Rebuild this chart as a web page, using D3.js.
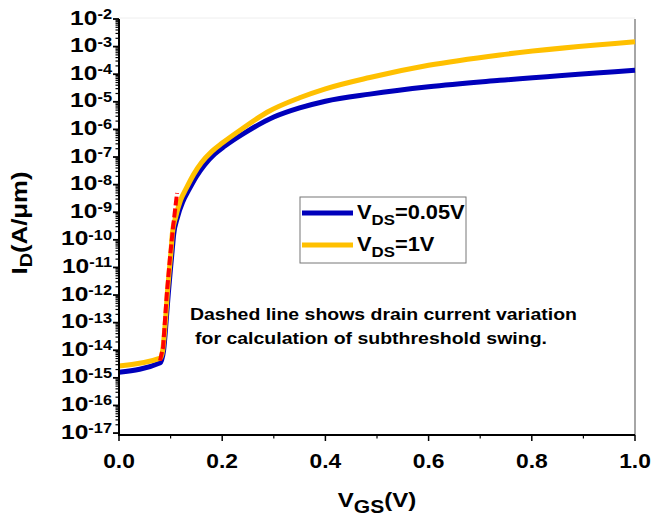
<!DOCTYPE html>
<html>
<head>
<meta charset="utf-8">
<script src="https://cdn.jsdelivr.net/npm/d3@7"></script>
<style>
  html, body { margin: 0; padding: 0; background: #fff; }
  svg { display: block; font-family: "Liberation Sans", Arial, sans-serif; font-weight: bold; }
</style>
</head>
<body>
<svg id="chart" width="651" height="517"></svg>
<script>
// Transfer characteristics: drain current vs gate voltage
const vgsLow = [0.000, 0.080, 0.0865, 0.092, 0.0955, 0.0995, 0.103, 0.106, 0.113, 0.124, 0.135, 0.150, 0.165, 0.185, 0.205, 0.250, 0.300, 0.350, 0.400, 0.486, 0.600, 0.738, 1.000];
const idLow  = [1.6e-15, 3.5e-15, 1.0e-14, 1.6e-13, 1.1e-12, 7.9e-12, 4.0e-11, 1.6e-10, 6.3e-10, 2.5e-9, 6.3e-9, 2.0e-8, 5.0e-8, 1.26e-7, 2.5e-7, 8.9e-7, 2.8e-6, 6.0e-6, 1.05e-5, 1.9e-5, 3.5e-5, 6.0e-5, 1.4e-4];

const vgsHigh = [0.000, 0.080, 0.0847, 0.0905, 0.0936, 0.0975, 0.101, 0.1034, 0.110, 0.1195, 0.130, 0.145, 0.160, 0.180, 0.200, 0.240, 0.287, 0.350, 0.400, 0.486, 0.600, 0.738, 1.000];
const idHigh  = [2.7e-15, 5.2e-15, 1.0e-14, 1.6e-13, 1.1e-12, 8.1e-12, 4.3e-11, 1.7e-10, 6.9e-10, 2.8e-9, 7.1e-9, 2.4e-8, 6.3e-8, 1.6e-7, 3.2e-7, 1.1e-6, 4.2e-6, 1.4e-5, 2.95e-5, 7.6e-5, 2.1e-4, 5.0e-4, 1.5e-3];

// Subthreshold slope guide
const vgsSS = [0.0795, 0.0855, 0.0925, 0.099, 0.105, 0.1125];
const idSS  = [4.2e-15, 1.3e-14, 1.0e-12, 2.5e-11, 3.2e-10, 5.0e-9];

const seriesNames = ["0.05V", "1V"];
const seriesColors = ["#0000bb", "#ffc000"];
const xTicks = [0, 0.2, 0.4, 0.6, 0.8, 1.0];
const xMinorTicks = [0.1, 0.3, 0.5, 0.7, 0.9];
const yExponents = d3.range(-17, -1); // -17 ... -2

const svg = d3.select("#chart");
const plotL = 119, plotR = 635, plotT = 19, plotB = 435;
const STRETCH = 1.17; // wide bold lettering

const x = d3.scaleLinear().domain([0, 1]).range([plotL, plotR]);
const y = d3.scaleLog().domain([Math.pow(10, -17.07), 1e-2]).range([plotB, plotT]);

// text placed at (tx, ty), widened along its own direction
function wideText(parent, tx, ty, size, anchor, rotate, stretch) {
  return parent.append("text")
    .attr("transform", `translate(${tx},${ty})` + (rotate ? ` rotate(${rotate})` : "") + ` scale(${stretch || STRETCH},1)`)
    .attr("text-anchor", anchor || "start").attr("font-size", size);
}

// frame: right and top edges
svg.append("line").attr("x1", plotR).attr("x2", plotR).attr("y1", plotT).attr("y2", plotB)
  .attr("stroke", "#888").attr("stroke-width", 1.5);
svg.append("line").attr("x1", plotL).attr("x2", plotR).attr("y1", plotT - 1).attr("y2", plotT - 1)
  .attr("stroke", "#eee").attr("stroke-width", 1);

// curves
const line = d3.line().x(d => x(d[0])).y(d => y(d[1])).curve(d3.curveMonotoneX);
const low = vgsLow.map((v, i) => [v, idLow[i]]);
const high = vgsHigh.map((v, i) => [v, idHigh[i]]);
const ss = vgsSS.map((v, i) => [v, idSS[i]]);

svg.append("path").datum(low).attr("d", line)
  .attr("fill", "none").attr("stroke", seriesColors[0]).attr("stroke-width", 5);
svg.append("path").datum(high).attr("d", line)
  .attr("fill", "none").attr("stroke", seriesColors[1]).attr("stroke-width", 5);
svg.append("path").datum(ss).attr("d", d3.line().x(d => x(d[0])).y(d => y(d[1])))
  .attr("fill", "none").attr("stroke", "#ff0000").attr("stroke-width", 4)
  .attr("stroke-dasharray", "9,3");

// x axis
svg.append("line").attr("x1", plotL - 1).attr("x2", plotR).attr("y1", plotB).attr("y2", plotB)
  .attr("stroke", "#000").attr("stroke-width", 2);
const gx = svg.append("g");
gx.selectAll("line.maj").data(xTicks).join("line").attr("class", "maj")
  .attr("x1", d => x(d)).attr("x2", d => x(d)).attr("y1", plotB).attr("y2", plotB + 6)
  .attr("stroke", "#000").attr("stroke-width", 1.5);
gx.selectAll("line.min").data(xMinorTicks).join("line").attr("class", "min")
  .attr("x1", d => x(d)).attr("x2", d => x(d)).attr("y1", plotB).attr("y2", plotB + 3.5)
  .attr("stroke", "#000").attr("stroke-width", 1.2);
xTicks.forEach(t => wideText(gx, x(t), 468, 19.5, "middle").text(d3.format(".1f")(t)));

// y axis
svg.append("line").attr("x1", plotL).attr("x2", plotL).attr("y1", plotT).attr("y2", plotB + 1)
  .attr("stroke", "#000").attr("stroke-width", 2);
const gy = svg.append("g");
const minorVals = [];
yExponents.forEach(e => { if (e < -2) for (let m = 2; m <= 9; m++) minorVals.push(m * Math.pow(10, e)); });
gy.selectAll("line.min").data(minorVals).join("line").attr("class", "min")
  .attr("x1", plotL - 3.5).attr("x2", plotL).attr("y1", d => y(d)).attr("y2", d => y(d))
  .attr("stroke", "#000").attr("stroke-width", 1.2);
gy.selectAll("line.maj").data(yExponents).join("line").attr("class", "maj")
  .attr("x1", plotL - 6).attr("x2", plotL).attr("y1", d => y(Math.pow(10, d))).attr("y2", d => y(Math.pow(10, d)))
  .attr("stroke", "#000").attr("stroke-width", 1.8);
yExponents.forEach(e => {
  const t = wideText(gy, 112, y(Math.pow(10, e)) + 5.5, 21, "end");
  t.append("tspan").text("10");
  t.append("tspan").attr("font-size", 14).attr("dy", -5.5).text(String(e));
});

// axis titles
const xt = wideText(svg, 377, 507, 20.5, "middle");
xt.append("tspan").text("V");
xt.append("tspan").attr("font-size", 18).attr("dy", 6).text("GS");
xt.append("tspan").attr("dy", -6).text("(V)");

const yt = wideText(svg, 27, 223, 22, "middle", -90);
yt.append("tspan").text("I");
yt.append("tspan").attr("font-size", 17).attr("dy", 5).text("D");
yt.append("tspan").attr("dy", -5).text("(A/\u03bcm)");

// legend
const lg = svg.append("g");
lg.append("rect").attr("x", 300).attr("y", 197).attr("width", 166).attr("height", 66)
  .attr("fill", "#fff").attr("stroke", "#777").attr("stroke-width", 1);
seriesNames.forEach((name, i) => {
  const yy = 213 + i * 32;
  lg.append("line").attr("x1", 302).attr("x2", 353).attr("y1", yy).attr("y2", yy)
    .attr("stroke", seriesColors[i]).attr("stroke-width", 5);
  const t = wideText(lg, 357, yy + 5.5, 19.5, "start", 0, 1.12);
  t.append("tspan").text("V");
  t.append("tspan").attr("font-size", 15).attr("dy", 6).text("DS");
  t.append("tspan").attr("dy", -6).text("=" + name);
});

// annotation
svg.append("text").attr("x", 190).attr("y", 320).attr("font-size", 16.5)
  .attr("textLength", 387).attr("lengthAdjust", "spacingAndGlyphs")
  .text("Dashed line shows drain current variation");
svg.append("text").attr("x", 195).attr("y", 344).attr("font-size", 16.5)
  .attr("textLength", 352).attr("lengthAdjust", "spacingAndGlyphs")
  .text("for calculation of subthreshold swing.");
</script>
</body>
</html>
